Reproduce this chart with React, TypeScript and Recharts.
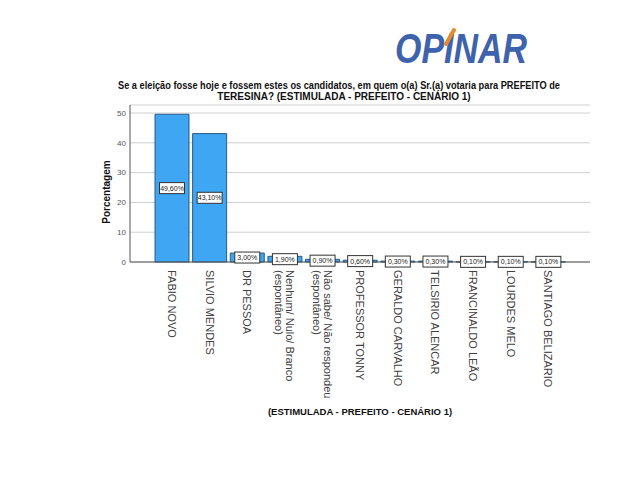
import { Bar, BarChart, CartesianGrid, LabelList, XAxis, YAxis } from "recharts";

const candidates = [
    "FABIO NOVO",
    "SILVIO MENDES",
    "DR PESSOA",
    "Nenhum/ Nulo/ Branco\n(espontâneo)",
    "Não sabe/ Não respondeu\n(espontâneo)",
    "PROFESSOR TONNY",
    "GERALDO CARVALHO",
    "TELSIRIO ALENCAR",
    "FRANCINALDO LEÃO",
    "LOURDES MELO",
    "SANTIAGO BELIZARIO",
];
const percentages = [49.6, 43.1, 3.0, 1.9, 0.9, 0.6, 0.3, 0.3, 0.1, 0.1, 0.1];
const yTicks = [0, 10, 20, 30, 40, 50];

const data = candidates.map((name, i) => ({ name, pct: percentages[i] }));

const font = "'Liberation Sans', Arial, sans-serif";
const fmt = (v: number) => v.toFixed(2).replace(".", ",") + "%";

function CandidateTick({ x, y, payload }: any) {
    const lines = String(payload.value).split("\n");
    const shift = (lines.length - 1) * 5;
    return (
        <g transform={`translate(${x + shift},${y}) rotate(90)`}>
            {lines.map((line, i) => (
                <text key={i} x={0} y={i * 11} dy="0.35em" textAnchor="start"
                    fontSize={11} fontFamily={font} fill="#404040">
                    {line}
                </text>
            ))}
        </g>
    );
}

function ValueBox(props: any) {
    const { x, y, width, height, value } = props;
    const cx = x + width / 2;
    const cy = y + height / 2;
    const w = 25;
    const h = 11;
    return (
        <g>
            <rect x={cx - w / 2} y={cy - h / 2} width={w} height={h} fill="#fff" stroke="#333" strokeWidth={1} />
            <text x={cx} y={cy} dy="0.35em" textAnchor="middle" fontSize={7} fontFamily={font} fill="#222">
                {fmt(value)}
            </text>
        </g>
    );
}

export default function App() {
    return (
        <div style={{ position: "relative", width: 624, height: 464 }}>
            <BarChart
                width={624}
                height={464}
                data={data}
                margin={{ top: 97, right: 42, left: 0, bottom: 0 }}
                barCategoryGap={2}
            >
                <CartesianGrid vertical={false} stroke="#cfcfcf" />
                <XAxis
                    dataKey="name"
                    height={210}
                    interval={0}
                    padding={{ left: 23, right: 23 }}
                    axisLine={{ stroke: "#555" }}
                    tickLine={false}
                    tick={<CandidateTick />}
                />
                <YAxis
                    width={122}
                    domain={[0, 52.7]}
                    ticks={yTicks}
                    axisLine={{ stroke: "#555" }}
                    tickLine={false}
                    tickSize={2}
                    tickMargin={2}
                    tick={{ fontSize: 8, fill: "#555", fontFamily: font }}
                />
                <Bar dataKey="pct" fill="#3ea6f2" stroke="#2a5a85" strokeWidth={1} isAnimationActive={false}>
                    <LabelList dataKey="pct" content={<ValueBox />} />
                </Bar>
            </BarChart>
            <svg width={624} height={464} style={{ position: "absolute", left: 0, top: 0, pointerEvents: "none" }}>
                <text x={387} y={55} fontSize={42} fontWeight="bold" fontStyle="italic" fontFamily={font}
                    textLength={132} lengthAdjust="spacingAndGlyphs" fill="#3f62ad">
                    OPINAR
                </text>
                <path d="M446 22 L438 36" stroke="#e8892b" strokeWidth={4} strokeLinecap="round" />
                <text x={331} y={81} textAnchor="middle" fontSize={10} fontWeight="bold" fontFamily={font} fill="#111"
                    textLength={442} lengthAdjust="spacingAndGlyphs">
                    Se a eleição fosse hoje e fossem estes os candidatos, em quem o(a) Sr.(a) votaria para PREFEITO de
                </text>
                <text x={336} y={92} textAnchor="middle" fontSize={10} fontWeight="bold" fontFamily={font} fill="#111">
                    TERESINA? (ESTIMULADA - PREFEITO - CENÁRIO 1)
                </text>
                <text transform="translate(102,184) rotate(-90)" textAnchor="middle" fontSize={10} fontWeight="bold"
                    fontFamily={font} fill="#111">
                    Porcentagem
                </text>
                <text x={352} y={407} textAnchor="middle" fontSize={9.5} fontWeight="bold" fontFamily={font} fill="#111">
                    (ESTIMULADA - PREFEITO - CENÁRIO 1)
                </text>
            </svg>
        </div>
    );
}
